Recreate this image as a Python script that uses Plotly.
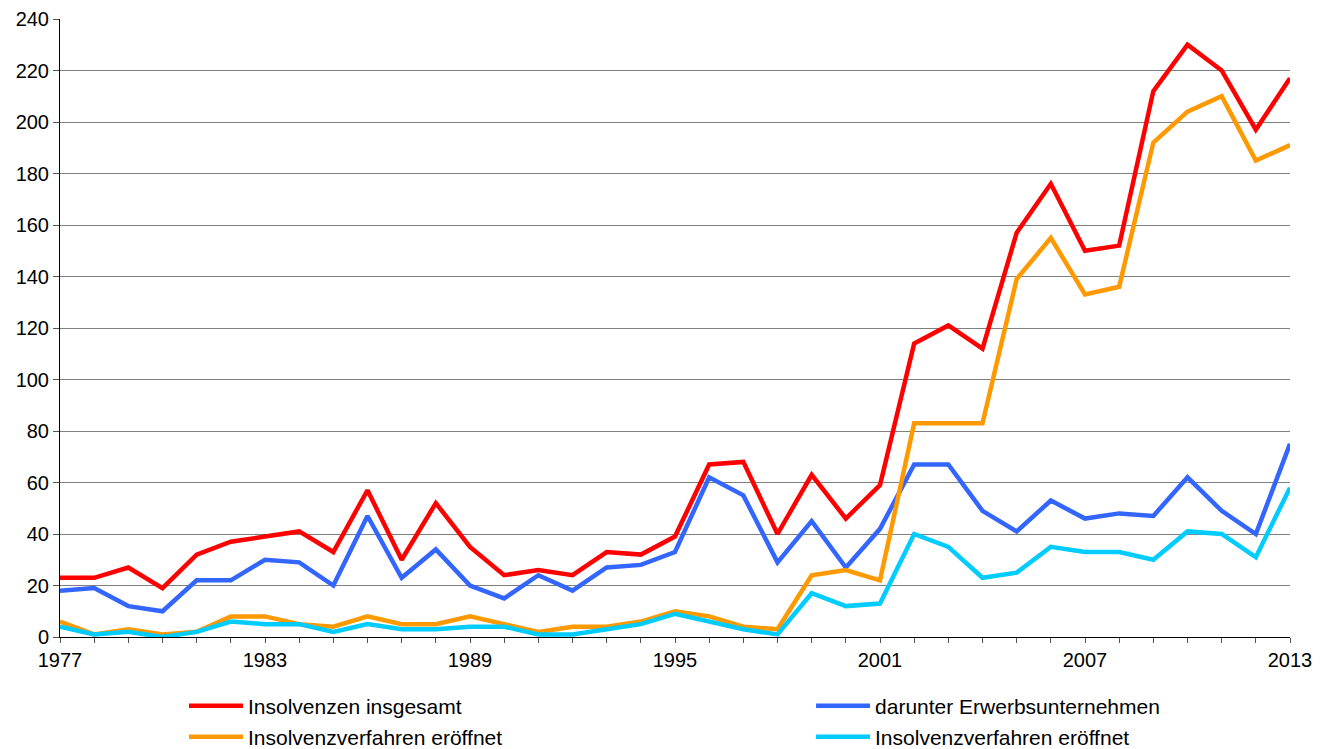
import plotly.graph_objects as go

years = list(range(1977, 2014))
insolvenzen_insgesamt = [23, 23, 27, 19, 32, 37, 39, 41, 33, 57, 30, 52, 35, 24, 26, 24, 33, 32, 39, 67, 68, 40, 63, 46, 59,
                         114, 121, 112, 157, 176, 150, 152, 212, 230, 220, 197, 217]
erwerbsunternehmen = [18, 19, 12, 10, 22, 22, 30, 29, 20, 47, 23, 34, 20, 15, 24, 18, 27, 28, 33, 62, 55, 29, 45, 27, 42,
                      67, 67, 49, 41, 53, 46, 48, 47, 62, 49, 40, 75]
verfahren_eroeffnet = [6, 1, 3, 1, 2, 8, 8, 5, 4, 8, 5, 5, 8, 5, 2, 4, 4, 6, 10, 8, 4, 3, 24, 26, 22,
                       83, 83, 83, 139, 155, 133, 136, 192, 204, 210, 185, 191]
verfahren_eroeffnet_erwerb = [4, 1, 2, 0, 2, 6, 5, 5, 2, 5, 3, 3, 4, 4, 1, 1, 3, 5, 9, 6, 3, 1, 17, 12, 13,
                              40, 35, 23, 25, 35, 33, 33, 30, 41, 40, 31, 58]

series_names = ["Insolvenzen insgesamt", "darunter Erwerbsunternehmen",
                "Insolvenzverfahren eröffnet", "Insolvenzverfahren eröffnet"]
series_values = [insolvenzen_insgesamt, erwerbsunternehmen, verfahren_eroeffnet, verfahren_eroeffnet_erwerb]
colors = ["#FF0000", "#3366FF", "#FF9900", "#00CCFF"]
legend_ids = ["legend", "legend2", "legend3", "legend4"]

tick_labels = [str(y) if (y - 1977) % 6 == 0 else "" for y in years]

fig = go.Figure()
for name, vals, col, lg in zip(series_names, series_values, colors, legend_ids):
    fig.add_trace(go.Scatter(x=years, y=vals, mode="lines", name=name,
                             line=dict(color=col, width=4.5), legend=lg))

font_family = "Liberation Sans, Arial, sans-serif"
col_x = [0.1008, 0.6106]
row_y = [-0.0785, -0.1290]


def legend_box(x, y):
    return dict(orientation="v", x=x, y=y, xanchor="left", yanchor="top",
                itemwidth=54, bgcolor="rgba(0,0,0,0)",
                font=dict(size=21, family=font_family, color="black"))


fig.update_layout(
    width=1327, height=749,
    margin=dict(l=60, r=37, t=19, b=112, autoexpand=False),
    paper_bgcolor="white", plot_bgcolor="white",
    font=dict(family=font_family, size=18, color="black"),
    showlegend=True,
    legend=legend_box(col_x[0], row_y[0]),
    legend2=legend_box(col_x[1], row_y[0]),
    legend3=legend_box(col_x[0], row_y[1]),
    legend4=legend_box(col_x[1], row_y[1]),
    xaxis=dict(range=[1977, 2013], tickmode="array", tickvals=years, ticktext=tick_labels,
               ticks="outside", ticklen=5, tickcolor="#555", showgrid=False,
               showline=True, linecolor="black", linewidth=1,
               tickfont=dict(size=20), zeroline=False),
    yaxis=dict(range=[0, 240], dtick=20, ticks="outside", ticklen=6, tickcolor="#555",
               showgrid=True, gridcolor="#7f7f7f", gridwidth=1,
               showline=True, linecolor="black", linewidth=1,
               tickfont=dict(size=20), zeroline=False),
)

fig.write_html("out.html", config={"displayModeBar": False},
               post_script="document.body.style.margin='0';")
